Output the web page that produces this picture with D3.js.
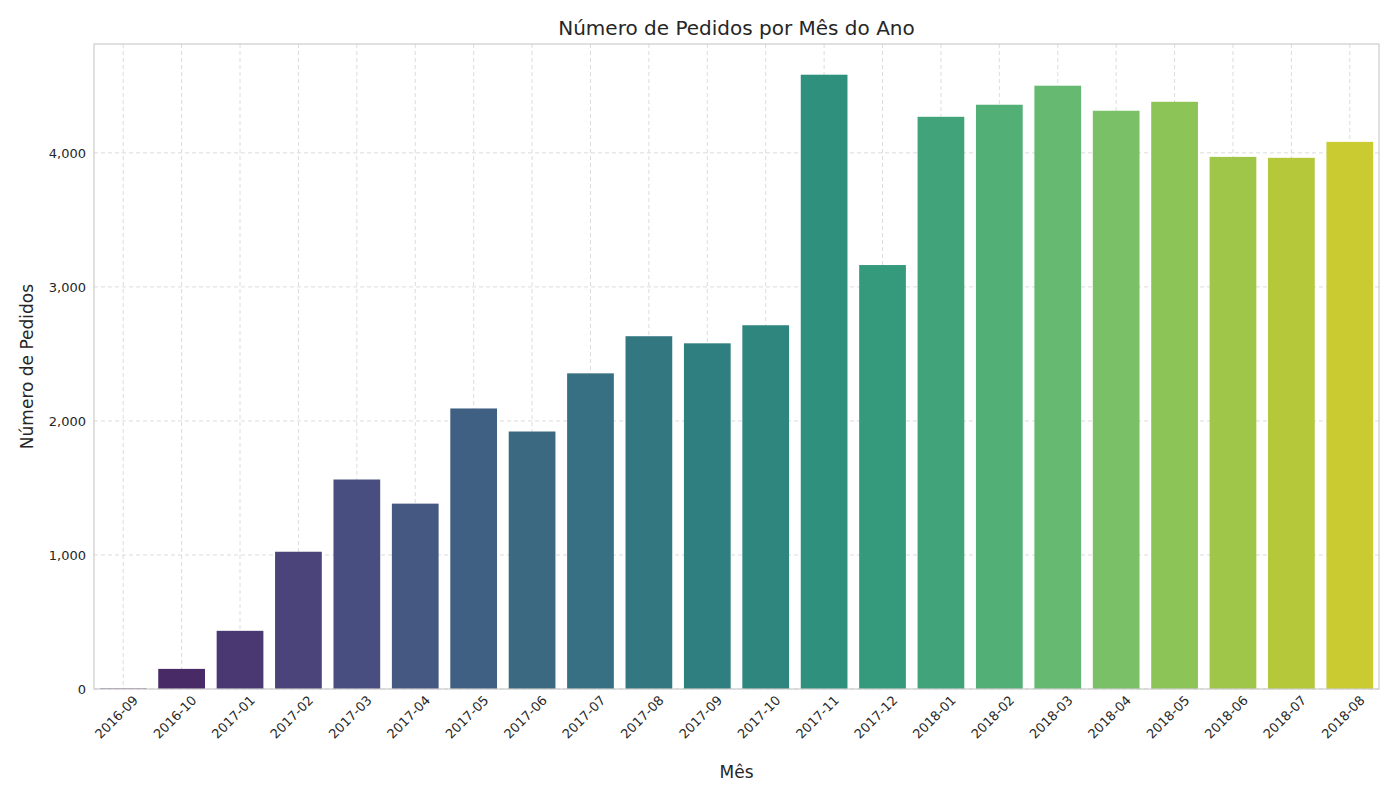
<!DOCTYPE html>
<html><head><meta charset="utf-8">
<script src="https://cdn.jsdelivr.net/npm/d3@7"></script>
<style>body{margin:0;background:#fff;font-family:"DejaVu Sans",sans-serif}</style>
</head><body><div class="chart"></div>
<script>
var months = ["2016-09","2016-10","2017-01","2017-02","2017-03","2017-04","2017-05","2017-06","2017-07","2017-08","2017-09","2017-10","2017-11","2017-12","2018-01","2018-02","2018-03","2018-04","2018-05","2018-06","2018-07","2018-08"];
var orders = [4,150,434,1024,1563,1383,2093,1921,2355,2632,2579,2714,4583,3163,4269,4359,4501,4314,4381,3970,3963,4082];
var yTicks = [0,1000,2000,3000,4000];

var svgWidth = 1400, svgHeight = 800;
var margin = {top: 44, right: 21, bottom: 111, left: 94};
var chartWidth = svgWidth - margin.left - margin.right;
var chartHeight = svgHeight - margin.top - margin.bottom;

var svg = d3.select(".chart").append("svg")
  .attr("width", svgWidth).attr("height", svgHeight);
var chartGroup = svg.append("g")
  .attr("transform", `translate(${margin.left}, ${margin.top})`);

var x = d3.scaleBand().domain(months).range([0, chartWidth])
  .paddingInner(0.2).paddingOuter(0.1);
var y = d3.scaleLinear().domain([0, d3.max(orders) * 1.05]).range([chartHeight, 0]);

// grid
chartGroup.selectAll(".gy").data(yTicks).enter().append("line")
  .attr("x1", 0).attr("x2", chartWidth)
  .attr("y1", d => y(d)).attr("y2", d => y(d))
  .attr("stroke", "#dcdcdc").attr("stroke-dasharray", "4,3");
chartGroup.selectAll(".gx").data(months).enter().append("line")
  .attr("x1", d => x(d) + x.bandwidth() / 2).attr("x2", d => x(d) + x.bandwidth() / 2)
  .attr("y1", 0).attr("y2", chartHeight)
  .attr("stroke", "#dcdcdc").attr("stroke-dasharray", "4,3");

// colours: seaborn viridis, desaturated
function colour(i) {
  var c = d3.hsl(d3.interpolateViridis((i + 1) / (months.length + 1)));
  c.s *= 0.75;
  return c.formatHex();
}

chartGroup.selectAll("rect.bar").data(orders).enter().append("rect")
  .attr("x", (d, i) => x(months[i]))
  .attr("width", x.bandwidth())
  .attr("y", d => y(d))
  .attr("height", d => chartHeight - y(d))
  .attr("fill", (d, i) => colour(i));

chartGroup.append("rect").attr("width", chartWidth).attr("height", chartHeight)
  .attr("fill", "none").attr("stroke", "#cccccc").attr("stroke-width", 1.2);

// axes
var yAxis = chartGroup.append("g").call(d3.axisLeft(y).tickValues(yTicks).tickSize(0).tickPadding(8));
var xAxis = chartGroup.append("g").attr("transform", `translate(0, ${chartHeight})`)
  .call(d3.axisBottom(x).tickSize(0).tickPadding(8));
[xAxis, yAxis].forEach(a => {
  a.select(".domain").remove();
  a.selectAll("text").attr("font-size", 13).attr("fill", "#262626").attr("font-family", "DejaVu Sans");
});
xAxis.selectAll("text")
  .attr("text-anchor", "end").attr("dx", "0.2em").attr("dy", "0.9em")
  .attr("transform", "rotate(-45)");

svg.append("text").attr("x", margin.left + chartWidth / 2).attr("y", 35)
  .attr("text-anchor", "middle").attr("font-size", 20).attr("fill", "#262626")
  .text("Número de Pedidos por Mês do Ano");
svg.append("text").attr("x", margin.left + chartWidth / 2).attr("y", 778)
  .attr("text-anchor", "middle").attr("font-size", 17).attr("fill", "#262626").text("Mês");
svg.append("text").attr("transform", `translate(33, ${margin.top + chartHeight / 2}) rotate(-90)`)
  .attr("text-anchor", "middle").attr("font-size", 17).attr("fill", "#262626").text("Número de Pedidos");
</script></body></html>
